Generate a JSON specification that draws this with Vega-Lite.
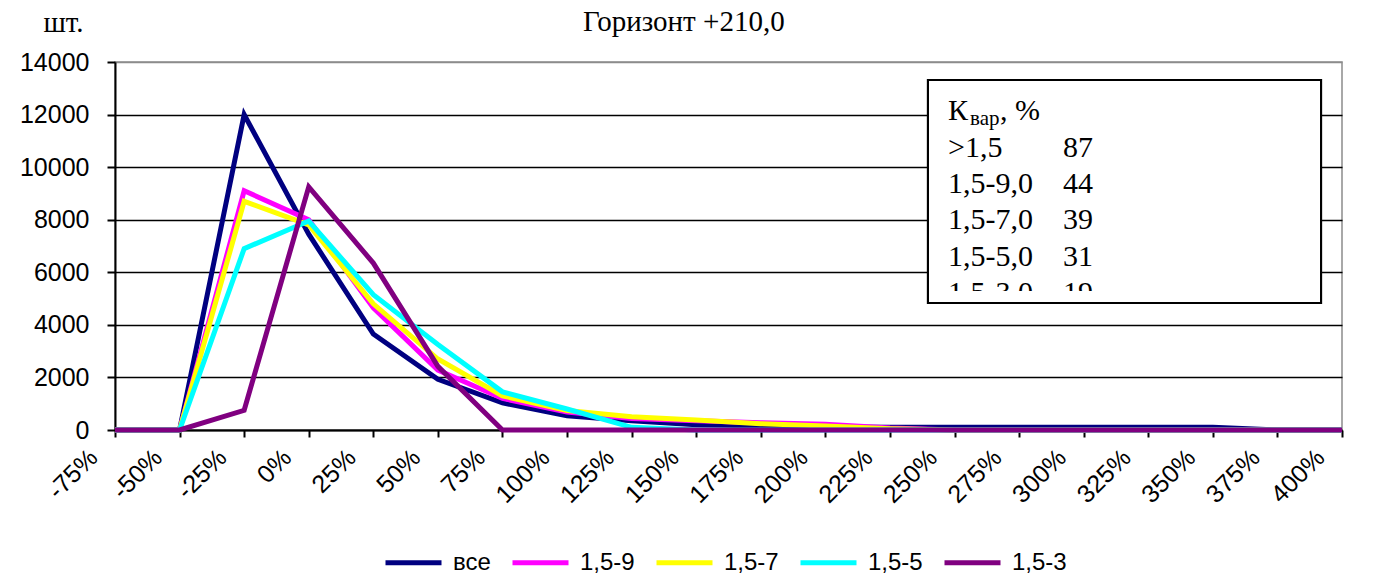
{
  "$schema": "https://vega.github.io/schema/vega-lite/v6.json",
  "width": 1227,
  "height": 368,
  "autosize": {"type": "none"},
  "padding": {"left": 115, "top": 62, "right": 39, "bottom": 146},
  "background": "white",
  "config": {
    "view": {"stroke": "#8c8c8c", "strokeWidth": 1.5},
    "axis": {
      "labelFont": "Liberation Sans",
      "labelFontSize": 25,
      "labelColor": "black",
      "domainColor": "black",
      "domainWidth": 2,
      "tickColor": "black",
      "tickWidth": 2,
      "tickSize": 7
    }
  },
  "datasets": {
    "hist": [
      {"pct": -75, "series": "все", "count": 0},
      {"pct": -50, "series": "все", "count": 0},
      {"pct": -25, "series": "все", "count": 12000},
      {"pct": 0, "series": "все", "count": 7450},
      {"pct": 25, "series": "все", "count": 3650},
      {"pct": 50, "series": "все", "count": 1930},
      {"pct": 75, "series": "все", "count": 1030},
      {"pct": 100, "series": "все", "count": 540},
      {"pct": 125, "series": "все", "count": 350},
      {"pct": 150, "series": "все", "count": 200},
      {"pct": 175, "series": "все", "count": 150},
      {"pct": 200, "series": "все", "count": 110},
      {"pct": 225, "series": "все", "count": 100},
      {"pct": 250, "series": "все", "count": 100},
      {"pct": 275, "series": "все", "count": 100},
      {"pct": 300, "series": "все", "count": 100},
      {"pct": 325, "series": "все", "count": 100},
      {"pct": 350, "series": "все", "count": 100},
      {"pct": 375, "series": "все", "count": 0},
      {"pct": 400, "series": "все", "count": 0},

      {"pct": -75, "series": "1,5-9", "count": 0},
      {"pct": -50, "series": "1,5-9", "count": 0},
      {"pct": -25, "series": "1,5-9", "count": 9100},
      {"pct": 0, "series": "1,5-9", "count": 8000},
      {"pct": 25, "series": "1,5-9", "count": 4650},
      {"pct": 50, "series": "1,5-9", "count": 2280},
      {"pct": 75, "series": "1,5-9", "count": 1200},
      {"pct": 100, "series": "1,5-9", "count": 680},
      {"pct": 125, "series": "1,5-9", "count": 440},
      {"pct": 150, "series": "1,5-9", "count": 350},
      {"pct": 175, "series": "1,5-9", "count": 280},
      {"pct": 200, "series": "1,5-9", "count": 220},
      {"pct": 225, "series": "1,5-9", "count": 80},
      {"pct": 250, "series": "1,5-9", "count": 0},
      {"pct": 275, "series": "1,5-9", "count": 0},
      {"pct": 300, "series": "1,5-9", "count": 0},
      {"pct": 325, "series": "1,5-9", "count": 0},
      {"pct": 350, "series": "1,5-9", "count": 0},
      {"pct": 375, "series": "1,5-9", "count": 0},
      {"pct": 400, "series": "1,5-9", "count": 0},

      {"pct": -75, "series": "1,5-7", "count": 0},
      {"pct": -50, "series": "1,5-7", "count": 0},
      {"pct": -25, "series": "1,5-7", "count": 8700},
      {"pct": 0, "series": "1,5-7", "count": 7800},
      {"pct": 25, "series": "1,5-7", "count": 4800},
      {"pct": 50, "series": "1,5-7", "count": 2700},
      {"pct": 75, "series": "1,5-7", "count": 1300},
      {"pct": 100, "series": "1,5-7", "count": 740},
      {"pct": 125, "series": "1,5-7", "count": 500},
      {"pct": 150, "series": "1,5-7", "count": 380},
      {"pct": 175, "series": "1,5-7", "count": 240},
      {"pct": 200, "series": "1,5-7", "count": 150},
      {"pct": 225, "series": "1,5-7", "count": 50},
      {"pct": 250, "series": "1,5-7", "count": 0},
      {"pct": 275, "series": "1,5-7", "count": 0},
      {"pct": 300, "series": "1,5-7", "count": 0},
      {"pct": 325, "series": "1,5-7", "count": 0},
      {"pct": 350, "series": "1,5-7", "count": 0},
      {"pct": 375, "series": "1,5-7", "count": 0},
      {"pct": 400, "series": "1,5-7", "count": 0},

      {"pct": -75, "series": "1,5-5", "count": 0},
      {"pct": -50, "series": "1,5-5", "count": 0},
      {"pct": -25, "series": "1,5-5", "count": 6900},
      {"pct": 0, "series": "1,5-5", "count": 7950},
      {"pct": 25, "series": "1,5-5", "count": 5150},
      {"pct": 50, "series": "1,5-5", "count": 3250},
      {"pct": 75, "series": "1,5-5", "count": 1450},
      {"pct": 100, "series": "1,5-5", "count": 800},
      {"pct": 125, "series": "1,5-5", "count": 100},
      {"pct": 150, "series": "1,5-5", "count": 0},
      {"pct": 175, "series": "1,5-5", "count": 0},
      {"pct": 200, "series": "1,5-5", "count": 0},
      {"pct": 225, "series": "1,5-5", "count": 0},
      {"pct": 250, "series": "1,5-5", "count": 0},
      {"pct": 275, "series": "1,5-5", "count": 0},
      {"pct": 300, "series": "1,5-5", "count": 0},
      {"pct": 325, "series": "1,5-5", "count": 0},
      {"pct": 350, "series": "1,5-5", "count": 0},
      {"pct": 375, "series": "1,5-5", "count": 0},
      {"pct": 400, "series": "1,5-5", "count": 0},

      {"pct": -75, "series": "1,5-3", "count": 0},
      {"pct": -50, "series": "1,5-3", "count": 0},
      {"pct": -25, "series": "1,5-3", "count": 750},
      {"pct": 0, "series": "1,5-3", "count": 9250},
      {"pct": 25, "series": "1,5-3", "count": 6350},
      {"pct": 50, "series": "1,5-3", "count": 2420},
      {"pct": 75, "series": "1,5-3", "count": 0},
      {"pct": 100, "series": "1,5-3", "count": 0},
      {"pct": 125, "series": "1,5-3", "count": 0},
      {"pct": 150, "series": "1,5-3", "count": 0},
      {"pct": 175, "series": "1,5-3", "count": 0},
      {"pct": 200, "series": "1,5-3", "count": 0},
      {"pct": 225, "series": "1,5-3", "count": 0},
      {"pct": 250, "series": "1,5-3", "count": 0},
      {"pct": 275, "series": "1,5-3", "count": 0},
      {"pct": 300, "series": "1,5-3", "count": 0},
      {"pct": 325, "series": "1,5-3", "count": 0},
      {"pct": 350, "series": "1,5-3", "count": 0},
      {"pct": 375, "series": "1,5-3", "count": 0},
      {"pct": 400, "series": "1,5-3", "count": 0}
    ],
    "kvar": [
      {"group": ">1,5", "kvar": 87},
      {"group": "1,5-9,0", "kvar": 44},
      {"group": "1,5-7,0", "kvar": 39},
      {"group": "1,5-5,0", "kvar": 31},
      {"group": "1,5-3,0", "kvar": 19}
    ]
  },
  "layer": [
    {
      "data": {"name": "hist"},
      "transform": [{"filter": "datum.series == 'все'"}],
      "mark": {"type": "line", "strokeWidth": 5},
      "encoding": {
        "x": {
          "field": "pct",
          "type": "quantitative",
          "scale": {"domain": [-75, 400], "nice": false, "zero": false},
          "axis": {
            "title": null,
            "values": [-75, -50, -25, 0, 25, 50, 75, 100, 125, 150, 175, 200, 225, 250, 275, 300, 325, 350, 375, 400],
            "labelExpr": "datum.value + '%'",
            "labelAngle": -45,
            "labelAlign": "right",
            "labelBaseline": "middle",
            "labelPadding": 16,
            "labelOffset": -22,
            "labelOverlap": false,
            "labelFlush": false,
            "labelBound": false,
            "grid": false
          }
        },
        "y": {
          "field": "count",
          "type": "quantitative",
          "scale": {"domain": [0, 14000], "nice": false},
          "axis": {
            "title": "шт.",
            "titleAngle": 0,
            "titleAlign": "left",
            "titleBaseline": "alphabetic",
            "titleX": -72,
            "titleY": -31,
            "titleFont": "Liberation Serif",
            "titleFontSize": 29,
            "titleFontWeight": "normal",
            "titleColor": "black",
            "values": [0, 2000, 4000, 6000, 8000, 10000, 12000, 14000],
            "format": "d",
            "labelPadding": 18,
            "tickSize": 8,
            "grid": true,
            "gridColor": {"condition": {"test": "datum.value == 14000", "value": "#8c8c8c"}, "value": "black"},
            "gridWidth": 1.6
          }
        },
        "color": {
          "field": "series",
          "type": "nominal",
          "scale": {
            "domain": ["все", "1,5-9", "1,5-7", "1,5-5", "1,5-3"],
            "range": ["#000080", "#FF00FF", "#FFFF00", "#00FFFF", "#800080"]
          },
          "legend": {
            "title": null,
            "orient": "none",
            "legendX": 268,
            "legendY": 470,
            "direction": "horizontal",
            "columns": 5,
            "padding": 0,
            "symbolType": "stroke",
            "symbolSize": 3136,
            "symbolStrokeWidth": 5,
            "labelFont": "Liberation Sans",
            "labelFontSize": 24,
            "labelColor": "black",
            "labelOffset": 9,
            "columnPadding": 11
          }
        }
      }
    },
    {
      "data": {"name": "hist"},
      "transform": [{"filter": "datum.series == '1,5-9'"}],
      "mark": {"type": "line", "strokeWidth": 5},
      "encoding": {
        "x": {"field": "pct", "type": "quantitative"},
        "y": {"field": "count", "type": "quantitative"},
        "color": {"field": "series", "type": "nominal"}
      }
    },
    {
      "data": {"name": "hist"},
      "transform": [{"filter": "datum.series == '1,5-7'"}],
      "mark": {"type": "line", "strokeWidth": 5},
      "encoding": {
        "x": {"field": "pct", "type": "quantitative"},
        "y": {"field": "count", "type": "quantitative"},
        "color": {"field": "series", "type": "nominal"}
      }
    },
    {
      "data": {"name": "hist"},
      "transform": [{"filter": "datum.series == '1,5-5'"}],
      "mark": {"type": "line", "strokeWidth": 5},
      "encoding": {
        "x": {"field": "pct", "type": "quantitative"},
        "y": {"field": "count", "type": "quantitative"},
        "color": {"field": "series", "type": "nominal"}
      }
    },
    {
      "data": {"name": "hist"},
      "transform": [{"filter": "datum.series == '1,5-3'"}],
      "mark": {"type": "line", "strokeWidth": 5},
      "encoding": {
        "x": {"field": "pct", "type": "quantitative"},
        "y": {"field": "count", "type": "quantitative"},
        "color": {"field": "series", "type": "nominal"}
      }
    },
    {
      "data": {"values": [{"box": 1}]},
      "mark": {"type": "text", "font": "Liberation Serif", "fontSize": 29, "align": "left", "baseline": "alphabetic", "fill": "black", "text": "Горизонт +210,0"},
      "encoding": {
        "x": {"datum": 106.2, "type": "quantitative"},
        "y": {"datum": 15179, "type": "quantitative"}
      }
    },
    {
      "data": {"values": [{"box": 1}]},
      "mark": {"type": "rect", "fill": "white", "stroke": "black", "strokeWidth": 2},
      "encoding": {
        "x": {"datum": 239.7, "type": "quantitative"},
        "x2": {"datum": 391.9},
        "y": {"datum": 13315, "type": "quantitative"},
        "y2": {"datum": 4832}
      }
    },
    {
      "data": {"values": [{"box": 1}]},
      "mark": {"type": "text", "font": "Liberation Serif", "fontSize": 30, "align": "left", "baseline": "alphabetic", "fill": "black", "text": "К"},
      "encoding": {
        "x": {"datum": 247.5, "type": "quantitative"},
        "y": {"datum": 11793, "type": "quantitative"}
      }
    },
    {
      "data": {"values": [{"box": 1}]},
      "mark": {"type": "text", "font": "Liberation Serif", "fontSize": 21, "align": "left", "baseline": "alphabetic", "fill": "black", "text": "вар"},
      "encoding": {
        "x": {"datum": 256.0, "type": "quantitative"},
        "y": {"datum": 11603, "type": "quantitative"}
      }
    },
    {
      "data": {"values": [{"box": 1}]},
      "mark": {"type": "text", "font": "Liberation Serif", "fontSize": 30, "align": "left", "baseline": "alphabetic", "fill": "black", "text": ", %"},
      "encoding": {
        "x": {"datum": 267.6, "type": "quantitative"},
        "y": {"datum": 11793, "type": "quantitative"}
      }
    },
    {
      "data": {"name": "kvar"},
      "mark": {"type": "text", "font": "Liberation Serif", "fontSize": 30, "align": "left", "baseline": "alphabetic", "fill": "black"},
      "encoding": {
        "x": {"datum": 247.5, "type": "quantitative"},
        "y": {"datum": 10386, "type": "quantitative"},
        "yOffset": {"field": "group", "type": "nominal", "sort": null, "scale": {"type": "point", "padding": 0, "domain": [">1,5", "1,5-9,0", "1,5-7,0", "1,5-5,0", "1,5-3,0"], "range": [0, 145]}},
        "text": {"field": "group"}
      }
    },
    {
      "data": {"name": "kvar"},
      "mark": {"type": "text", "font": "Liberation Serif", "fontSize": 30, "align": "left", "baseline": "alphabetic", "fill": "black"},
      "encoding": {
        "x": {"datum": 292.0, "type": "quantitative"},
        "y": {"datum": 10386, "type": "quantitative"},
        "yOffset": {"field": "group", "type": "nominal", "sort": null, "scale": {"type": "point", "padding": 0, "domain": [">1,5", "1,5-9,0", "1,5-7,0", "1,5-5,0", "1,5-3,0"], "range": [0, 145]}},
        "text": {"field": "kvar"}
      }
    },
    {
      "data": {"values": [{"box": 1}]},
      "mark": {"type": "rect", "fill": "white", "stroke": null},
      "encoding": {
        "x": {"datum": 240.3, "type": "quantitative"},
        "x2": {"datum": 391.3},
        "y": {"datum": 5288, "type": "quantitative"},
        "y2": {"datum": 4489}
      }
    },
    {
      "data": {"values": [{"box": 1}]},
      "mark": {"type": "rect", "fill": null, "fillOpacity": 0, "stroke": "black", "strokeWidth": 2},
      "encoding": {
        "x": {"datum": 239.7, "type": "quantitative"},
        "x2": {"datum": 391.9},
        "y": {"datum": 13315, "type": "quantitative"},
        "y2": {"datum": 4832}
      }
    }
  ]
}
